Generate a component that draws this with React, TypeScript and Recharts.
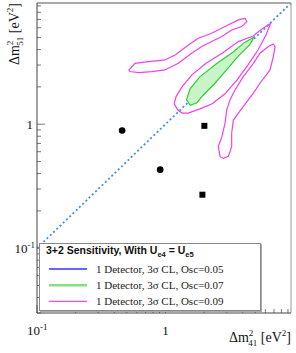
import { ScatterChart, Scatter, XAxis, YAxis, ReferenceLine } from 'recharts';

// contour points, Δm²41 (x) vs Δm²51 (y), eV²
const greenX = [4.9, 4.13, 3.39, 2.51, 1.86, 1.56, 1.46, 1.56, 1.76, 1.94, 2.4, 2.98, 3.69, 4.52];
const greenY = [5.06, 4.57, 3.84, 3.09, 2.42, 1.94, 1.58, 1.42, 1.49, 1.69, 2.11, 2.73, 3.54, 4.36];

const midX = [6.58, 5.65, 4.81, 3.7, 2.76, 2.07, 1.61, 1.35, 1.21, 1.17, 1.25, 1.35, 1.5, 1.86, 2.31, 2.91, 3.61, 4.4, 5.26, 6.07];
const midY = [6.5, 5.87, 5.15, 4.64, 3.74, 3.1, 2.5, 2.01, 1.67, 1.46, 1.3, 1.23, 1.23, 1.33, 1.46, 1.76, 2.28, 3.01, 3.97, 5.25];

const upperX = [0.52, 0.58, 0.74, 0.99, 1.19, 1.51, 1.8, 2.29, 2.91, 3.7, 4.17, 4.3, 3.93, 3.28, 2.75, 2.29, 1.92, 1.6, 1.26, 0.99, 0.78, 0.62, 0.53];
const upperY = [2.74, 3.1, 3.2, 3.3, 3.62, 4.36, 4.94, 5.42, 6.13, 6.94, 7.16, 6.72, 6.13, 5.76, 5.09, 4.64, 4.23, 3.74, 3.1, 2.74, 2.66, 2.61, 2.66];

const rightX = [6.92, 6.33, 5.45, 4.84, 4.04, 3.48, 3.18, 3.0, 2.91, 2.75, 2.58, 2.66, 2.82, 3.09, 3.28, 3.28, 3.38, 4.04, 4.84, 5.45, 6.52, 6.92, 7.14];
const rightY = [4.44, 4.23, 3.74, 3.1, 2.42, 1.89, 1.57, 1.3, 1.02, 0.79, 0.66, 0.55, 0.53, 0.55, 0.66, 0.85, 1.08, 1.39, 1.78, 2.14, 2.74, 3.51, 4.23];

const circleX = [0.46, 0.91];
const circleY = [0.89, 0.43];
const squareX = [2.01, 1.94];
const squareY = [0.97, 0.27];

const xTicks = [0.1, 0.2, 0.3, 0.4, 0.5, 0.6, 0.7, 0.8, 0.9, 1, 2, 3, 4, 5, 6, 7, 8, 9];
const yTicks = [0.03, 0.04, 0.05, 0.06, 0.07, 0.08, 0.09, 0.1, 0.2, 0.3, 0.4, 0.5, 0.6, 0.7, 0.8, 0.9, 1, 2, 3, 4, 5, 6, 7, 8, 9];

const legendLabels = ['1 Detector, 3σ CL, Osc=0.05', '1 Detector, 3σ CL, Osc=0.07', '1 Detector, 3σ CL, Osc=0.09'];
const legendColors = ['#3333ff', '#88dd88', '#ff44ff'];
const legendWidths = [1.5, 2.5, 1.3];

const W = 296;
const H = 353;
const PL = 37;
const PR = 291;
const PT = 3;
const PB = 313;

const zip = (xs: number[], ys: number[]) => xs.map((x, i) => ({ x, y: ys[i] }));

const serif = '"Liberation Serif", "Times New Roman", serif';
const sans = '"Liberation Sans", Arial, sans-serif';

const YTick = (props: any) => {
  const { y, payload } = props;
  const v = payload.value;
  const major = v === 0.1 || v === 1;
  return (
    <g>
      <line x1={PL} x2={PL + (major ? 8 : 4)} y1={y} y2={y} stroke="#777" strokeWidth={1} />
      {v === 1 && (
        <text x={33} y={y + 4.5} textAnchor="end" fontSize={13} fontFamily={serif} fill="#111" stroke="none">1</text>
      )}
      {v === 0.1 && (
        <text x={35} y={y + 4.5} textAnchor="end" fontSize={13} fontFamily={serif} fill="#111" stroke="none">
          10<tspan dy={-5} fontSize={9}>-1</tspan>
        </text>
      )}
    </g>
  );
};

const XTick = (props: any) => {
  const { x, payload } = props;
  const v = payload.value;
  const major = v === 0.1 || v === 1;
  return (
    <g>
      <line x1={x} x2={x} y1={PB} y2={PB - (major ? 8 : 4)} stroke="#777" strokeWidth={1} />
      {v === 1 && (
        <text x={x} y={335} textAnchor="middle" fontSize={13} fontFamily={serif} fill="#111" stroke="none">1</text>
      )}
      {v === 0.1 && (
        <text x={x - 10} y={335} fontSize={13} fontFamily={serif} fill="#111" stroke="none">
          10<tspan dy={-5} fontSize={9}>-1</tspan>
        </text>
      )}
    </g>
  );
};

const noShape = () => <g />;

export default function App() {
  return (
    <div style={{ position: 'absolute', left: 0, top: 0, width: W, height: H, background: '#fff' }}>
      <ScatterChart width={W} height={H} margin={{ top: PT, right: W - PR, left: PL - 1, bottom: H - PB - 1 }}>
        <XAxis
          type="number"
          dataKey="x"
          scale="log"
          domain={[0.1, 9.5]}
          allowDataOverflow
          ticks={xTicks}
          interval={0}
          height={1}
          tick={<XTick />}
          tickLine={false}
          axisLine={false}
        />
        <YAxis
          type="number"
          dataKey="y"
          scale="log"
          domain={[0.03, 9.5]}
          allowDataOverflow
          ticks={yTicks}
          interval={0}
          width={1}
          tick={<YTick />}
          tickLine={false}
          axisLine={false}
        />
        <ReferenceLine
          segment={[{ x: 0.1, y: 0.1 }, { x: 9.5, y: 9.5 }]}
          stroke="#3c8ff5"
          strokeWidth={1.8}
          strokeDasharray="2 2.5"
          ifOverflow="visible"
        />
        <Scatter
          data={zip(greenX, greenY)}
          shape={noShape}
          line={{ stroke: '#33cc33', fill: '#c8f5c8', strokeWidth: 1.2 }}
          lineJointType="linearClosed"
          isAnimationActive={false}
        />
        <Scatter
          data={zip(midX, midY)}
          shape={noShape}
          line={{ stroke: '#f040f0', fill: 'none', strokeWidth: 1.2 }}
          lineJointType="linearClosed"
          isAnimationActive={false}
        />
        <Scatter
          data={zip(upperX, upperY)}
          shape={noShape}
          line={{ stroke: '#f040f0', fill: 'none', strokeWidth: 1.2 }}
          lineJointType="linearClosed"
          isAnimationActive={false}
        />
        <Scatter
          data={zip(rightX, rightY)}
          shape={noShape}
          line={{ stroke: '#f040f0', fill: 'none', strokeWidth: 1.2 }}
          lineJointType="linearClosed"
          isAnimationActive={false}
        />
        <Scatter
          data={zip(circleX, circleY)}
          shape={(p: any) => <circle cx={p.cx} cy={p.cy} r={3.3} fill="#000" />}
          isAnimationActive={false}
        />
        <Scatter
          data={zip(squareX, squareY)}
          shape={(p: any) => <rect x={p.cx - 3} y={p.cy - 3} width={6} height={6} fill="#000" />}
          isAnimationActive={false}
        />
      </ScatterChart>

      <svg width={W} height={H} style={{ position: 'absolute', left: 0, top: 0, pointerEvents: 'none' }}>
        <line x1={PL} x2={PR} y1={PT} y2={PT} stroke="#aaa" strokeWidth={2} />
        <line x1={PR} x2={PR} y1={PT} y2={PB} stroke="#999" strokeWidth={1} />
        <line x1={PL} x2={PL} y1={PT} y2={PB} stroke="#444" strokeWidth={1} />
        <line x1={PL} x2={PR} y1={PB} y2={PB} stroke="#444" strokeWidth={1} />
        <text x={291} y={342} textAnchor="end" fontSize={14} fontFamily={serif} fill="#111">
          Δm<tspan dy={-6} fontSize={9}>2</tspan>
          <tspan dx={-5} dy={10} fontSize={9}>41</tspan>
          <tspan dy={-4}> [eV</tspan>
          <tspan dy={-6} fontSize={9}>2</tspan>
          <tspan dy={6}>]</tspan>
        </text>
        <text transform="translate(19,3) rotate(-90)" textAnchor="end" fontSize={14} fontFamily={serif} fill="#111">
          Δm<tspan dy={-6} fontSize={9}>2</tspan>
          <tspan dx={-5} dy={10} fontSize={9}>51</tspan>
          <tspan dy={-4}> [eV</tspan>
          <tspan dy={-6} fontSize={9}>2</tspan>
          <tspan dy={6}>]</tspan>
        </text>
      </svg>

      <div
        style={{
          position: 'absolute',
          left: 39,
          top: 243,
          width: 220,
          height: 66,
          background: '#fff',
          border: '1px solid #888',
          boxShadow: '1px 1px 0 #aaa',
        }}
      >
        <svg width={220} height={66} style={{ display: 'block' }}>
          <text x={6} y={10} fontSize={10.5} fontWeight="bold" fontFamily={sans} fill="#111">
            3+2 Sensitivity, With U<tspan dy={3} fontSize={7.5}>e4</tspan>
            <tspan dy={-3}> = U</tspan>
            <tspan dy={3} fontSize={7.5}>e5</tspan>
          </text>
          {legendLabels.map((label, i) => (
            <g key={label}>
              <line
                x1={9}
                x2={47}
                y1={25 + i * 16.2}
                y2={25 + i * 16.2}
                stroke={legendColors[i]}
                strokeWidth={legendWidths[i]}
              />
              <text x={56} y={29 + i * 16.2} fontSize={11} fontFamily={serif} fill="#222">
                {label}
              </text>
            </g>
          ))}
        </svg>
      </div>
    </div>
  );
}
